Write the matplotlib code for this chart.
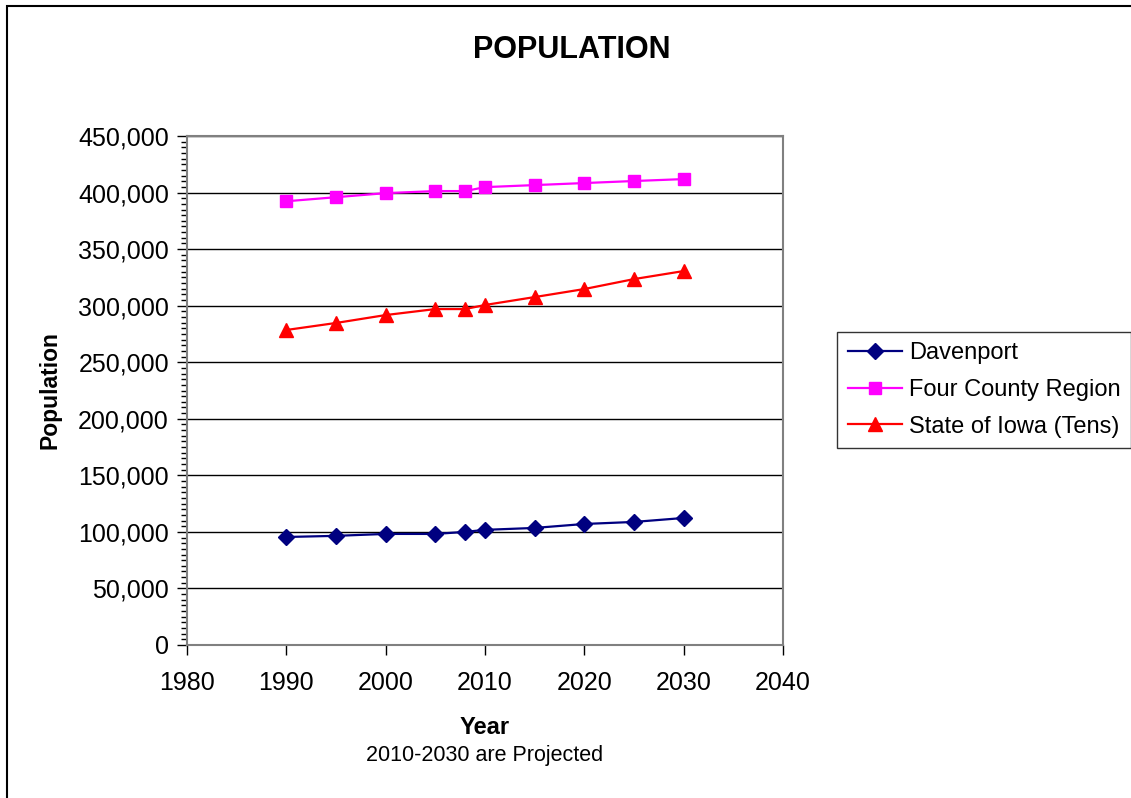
import matplotlib
matplotlib.use("Agg")
import matplotlib.pyplot as plt
from matplotlib.ticker import FuncFormatter, MultipleLocator
from matplotlib.patches import Rectangle

plt.rcParams['font.family'] = ['Liberation Sans', 'DejaVu Sans']

years = [1990, 1995, 2000, 2005, 2008, 2010, 2015, 2020, 2025, 2030]
davenport = [95500, 96500, 98200, 98200, 100000, 101800, 103500, 107000, 108800, 112300]
four_county = [392300, 395900, 399500, 401300, 401300, 404800, 406600, 408400, 410200, 411900]
iowa_tens = [278500, 284700, 291700, 297000, 297000, 300600, 307600, 314700, 323500, 330600]

series_names = ["Davenport", "Four County Region", "State of Iowa (Tens)"]
x_ticks = [1980, 1990, 2000, 2010, 2020, 2030, 2040]
y_ticks = list(range(0, 450001, 50000))

fig = plt.figure(figsize=(11.31, 7.98), dpi=100)
fig.patches.append(Rectangle((7/1131, -0.1), 1.1, 1.1 - 6/798, transform=fig.transFigure,
                             fill=False, edgecolor='black', linewidth=1.5))

ax = fig.add_axes([187/1131, (798-645)/798, (783-187)/1131, (645-136)/798])

ax.plot(years, davenport, color='#000080', marker='D', markersize=8, linewidth=1.6,
        label=series_names[0])
ax.plot(years, four_county, color='#FF00FF', marker='s', markersize=8.5, linewidth=1.6,
        label=series_names[1])
ax.plot(years, iowa_tens, color='#FF0000', marker='^', markersize=10, linewidth=1.6,
        label=series_names[2])

ax.set_xlim(1980, 2040)
ax.set_ylim(0, 450000)
ax.set_xticks(x_ticks)
ax.set_yticks(y_ticks)
ax.yaxis.set_minor_locator(MultipleLocator(5000))
ax.yaxis.set_major_formatter(FuncFormatter(lambda v, p: f"{int(v):,}"))
ax.grid(axis='y', which='major', color='black', linewidth=1)
ax.set_axisbelow(True)

for s in ax.spines.values():
    s.set_color('#808080')
    s.set_linewidth(1.5)

ax.tick_params(axis='both', which='major', labelsize=18, direction='out', length=7,
               color='black', width=1)
ax.tick_params(axis='y', which='minor', direction='out', length=4, color='black', width=1)
ax.tick_params(axis='x', which='major', pad=12)
ax.tick_params(axis='y', which='major', pad=6)

fig.text(572/1131, 1 - 50/798, "POPULATION", fontsize=22, fontweight='bold',
         ha='center', va='center')
ax.set_ylabel("Population", fontsize=16.5, fontweight='bold', labelpad=12)
ax.set_xlabel("Year", fontsize=17, fontweight='bold', labelpad=15)
fig.text((187+783)/2/1131, 1 - 756/798, "2010-2030 are Projected", fontsize=15.5,
         ha='center', va='center')

leg = ax.legend(loc='center left', bbox_to_anchor=(837/1131, 1 - 390/798),
                bbox_transform=fig.transFigure, fontsize=17, frameon=True,
                fancybox=False, edgecolor='black', handlelength=2.3,
                borderpad=0.45, labelspacing=0.62, handletextpad=0.3, borderaxespad=0)
leg.get_frame().set_linewidth(1.0)

fig.savefig("out.png", dpi=100)
